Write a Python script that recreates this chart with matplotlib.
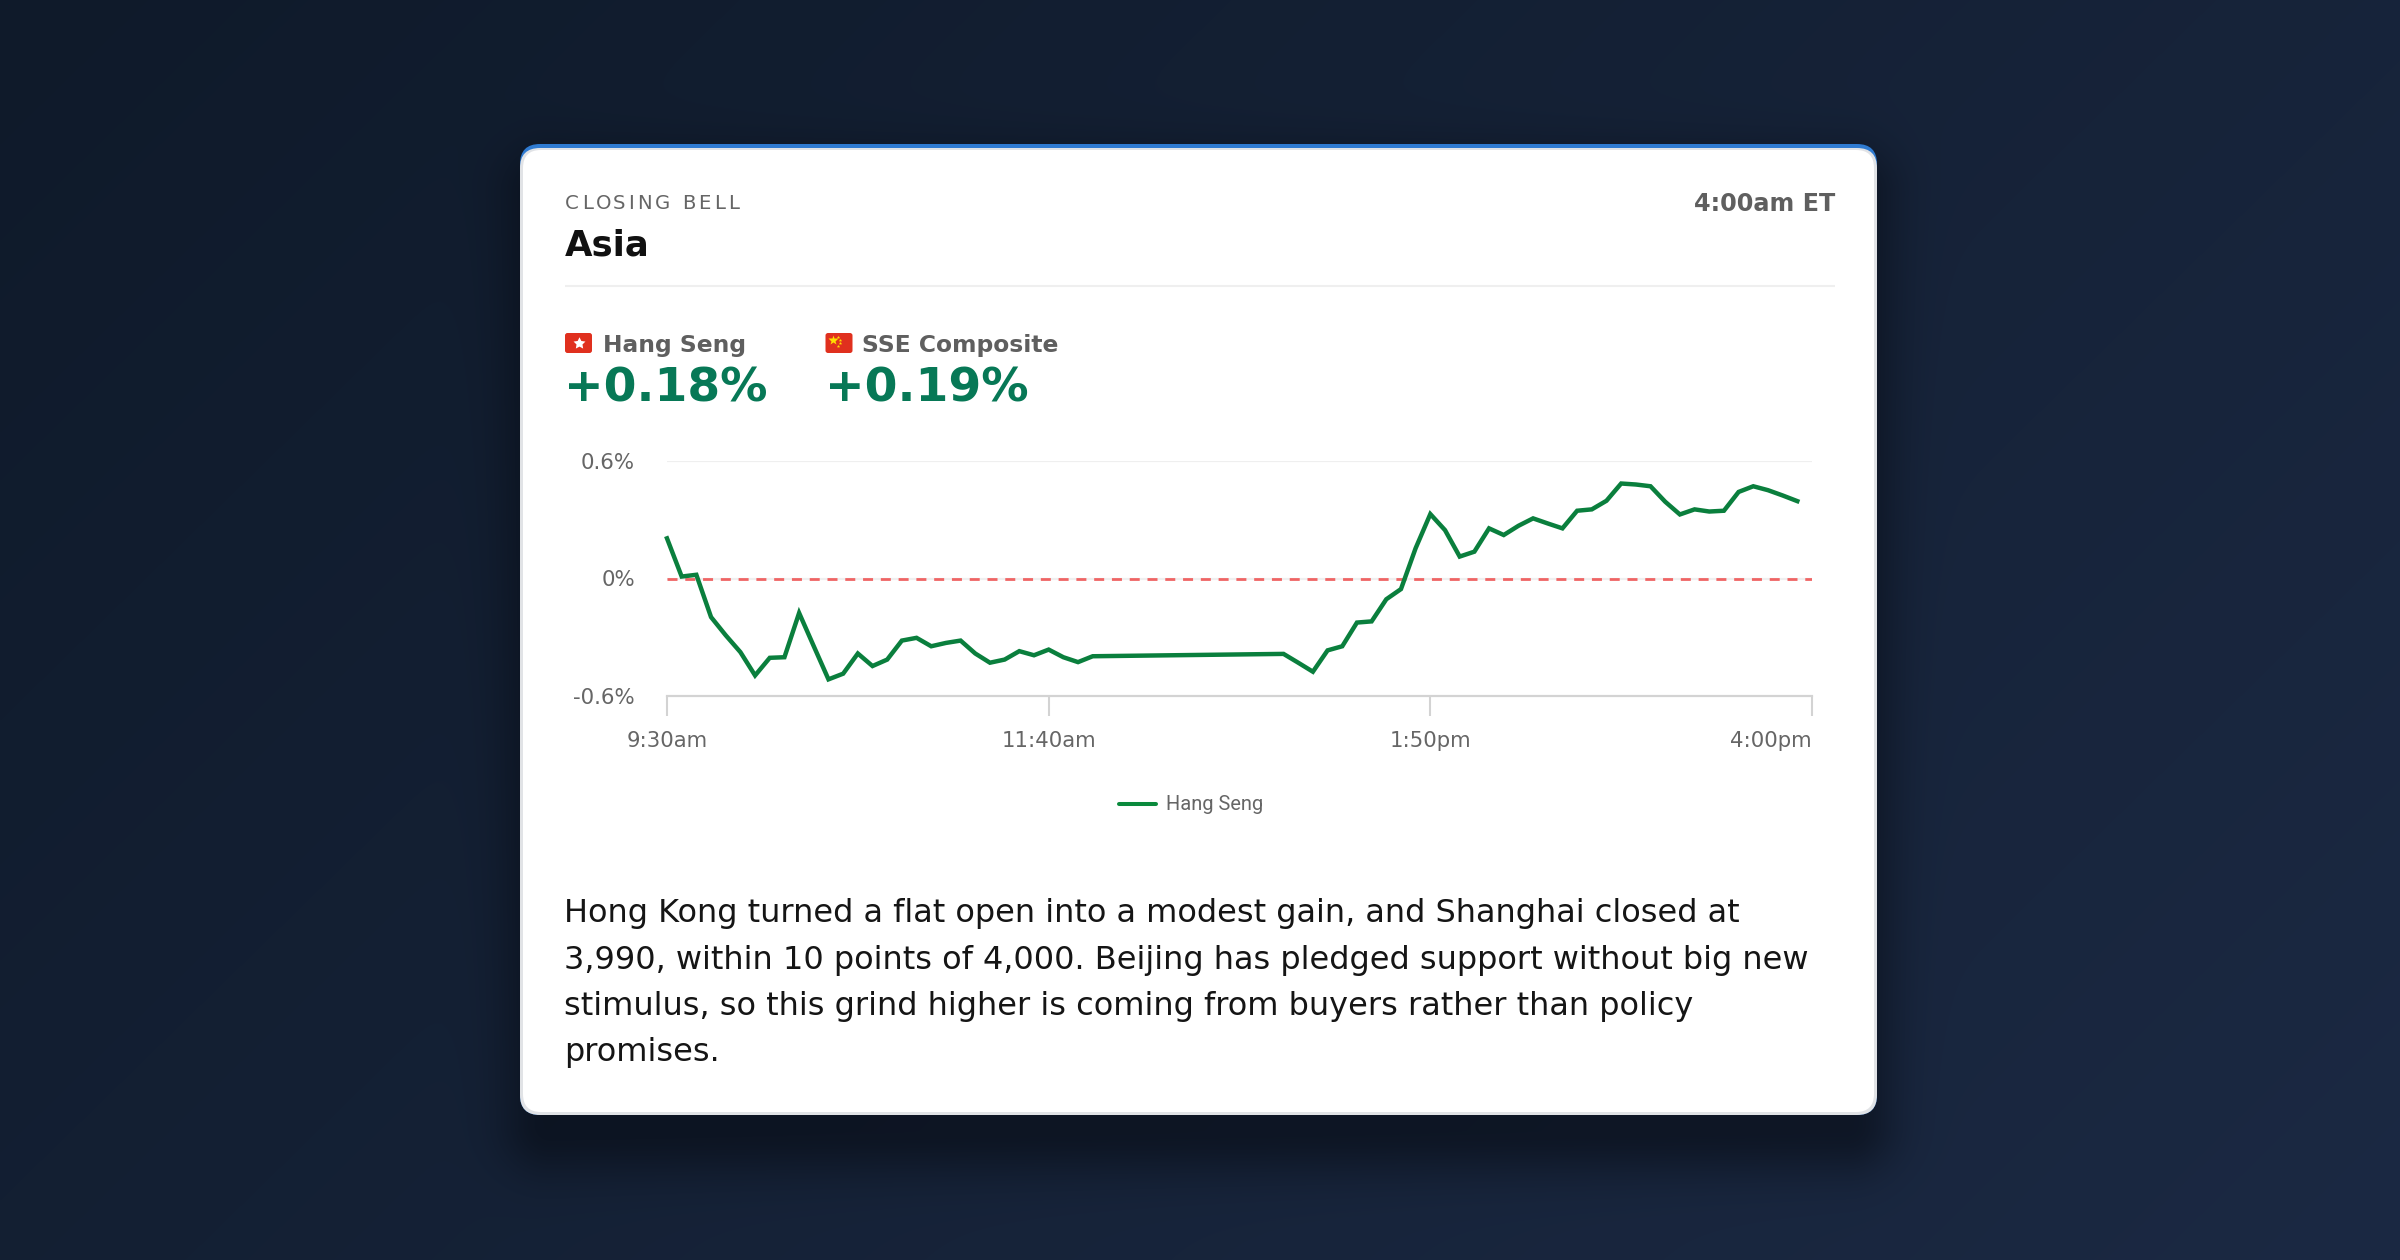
import numpy as np
import matplotlib
matplotlib.use("Agg")
import matplotlib.pyplot as plt
from matplotlib.patches import FancyBboxPatch
from matplotlib.font_manager import FontProperties
from matplotlib.lines import Line2D

# ---------------- data ----------------
morning_times = ["9:30", "9:35", "9:40", "9:45", "9:50", "9:55", "10:00", "10:05", "10:10", "10:15",
                 "10:20", "10:25", "10:30", "10:35", "10:40", "10:45", "10:50", "10:55", "11:00", "11:05",
                 "11:10", "11:15", "11:20", "11:25", "11:30", "11:35", "11:40", "11:45", "11:50", "11:55"]
morning_values = [0.205, 0.010, 0.019, -0.197, -0.290, -0.376, -0.495, -0.405, -0.402, -0.176,
                  -0.346, -0.515, -0.486, -0.383, -0.447, -0.414, -0.317, -0.303, -0.346, -0.329,
                  -0.317, -0.383, -0.430, -0.414, -0.371, -0.392, -0.363, -0.402, -0.427, -0.397]
afternoon_times = ["13:00", "13:05", "13:10", "13:15", "13:20", "13:25", "13:30", "13:35", "13:40", "13:45",
                   "13:50", "13:55", "14:00", "14:05", "14:10", "14:15", "14:20", "14:25", "14:30", "14:35",
                   "14:40", "14:45", "14:50", "14:55", "15:00", "15:05", "15:10", "15:15", "15:20", "15:25",
                   "15:30", "15:35", "15:40", "15:45", "15:50", "15:55"]
afternoon_values = [-0.385, -0.430, -0.476, -0.367, -0.346, -0.225, -0.219, -0.106, -0.054, 0.155,
                    0.329, 0.247, 0.112, 0.137, 0.256, 0.222, 0.269, 0.307, 0.281, 0.256,
                    0.346, 0.353, 0.397, 0.485, 0.480, 0.471, 0.392, 0.327, 0.353, 0.342,
                    0.346, 0.442, 0.471, 0.451, 0.424, 0.395]
tick_times = ["9:30", "11:40", "13:50", "16:00"]
tick_labels = ["9:30am", "11:40am", "1:50pm", "4:00pm"]
y_ticks = [-0.6, 0.0, 0.6]
y_tick_labels = ["-0.6%", "0%", "0.6%"]
series_name = "Hang Seng"
indices = ["Hang Seng", "SSE Composite"]
changes = ["+0.18%", "+0.19%"]
kicker = "CLOSING BELL"
title = "Asia"
stamp = "4:00am ET"
body_lines = [
    "Hong Kong turned a flat open into a modest gain, and Shanghai closed at",
    "3,990, within 10 points of 4,000. Beijing has pledged support without big new",
    "stimulus, so this grind higher is coming from buyers rather than policy",
    "promises.",
]


def minutes(t):
    h, m = t.split(":")
    return (int(h) - 9) * 60 + int(m) - 30


W, H = 2400, 1260
DPI = 100
fig = plt.figure(figsize=(W / DPI, H / DPI), dpi=DPI)

# ---------------- background ----------------
bg = fig.add_axes([0, 0, 1, 1])
bg.set_xlim(0, W)
bg.set_ylim(H, 0)
bg.axis("off")

Y, X = np.mgrid[0:H, 0:W].astype(float)
t = np.clip(X / W * 0.65 + Y / H * 0.35, 0, 1)
c0 = np.array([15, 26, 42]) / 255.0
c1 = np.array([27, 41, 67]) / 255.0
img = c0[None, None, :] * (1 - t[..., None]) + c1[None, None, :] * t[..., None]

cx0, cy0, cx1, cy1, rad = 520, 144, 1877, 1115, 20


def rr_sdf(x0, y0, x1, y1, r):
    cx, cy = (x0 + x1) / 2, (y0 + y1) / 2
    hx, hy = (x1 - x0) / 2 - r, (y1 - y0) / 2 - r
    qx = np.abs(X - cx) - hx
    qy = np.abs(Y - cy) - hy
    outside = np.hypot(np.maximum(qx, 0), np.maximum(qy, 0))
    inside = np.minimum(np.maximum(qx, qy), 0)
    return outside + inside - r


d = rr_sdf(cx0 + 10, cy0 + 30, cx1 - 10, cy1 + 30, rad)
alpha = 0.55 * np.exp(-(np.maximum(d + 15, 0) / 45.0) ** 2)
shadow_col = np.array([6, 10, 18]) / 255.0
img = img * (1 - alpha[..., None]) + shadow_col[None, None, :] * alpha[..., None]
bg.imshow(img, extent=(0, W, H, 0), aspect="auto", interpolation="bilinear", zorder=0)

# card layers: blue top border, grey border, white fill
bg.add_patch(FancyBboxPatch((cx0, cy0), cx1 - cx0, cy1 - cy0,
                            boxstyle=f"round,pad=0,rounding_size={rad}",
                            facecolor="#2f7bd2", edgecolor="none", zorder=1))
bg.add_patch(FancyBboxPatch((cx0, cy0 + 4), cx1 - cx0, cy1 - cy0 - 4,
                            boxstyle=f"round,pad=0,rounding_size={rad}",
                            facecolor="#e1e3e6", edgecolor="none", zorder=2))
bg.add_patch(FancyBboxPatch((cx0 + 3, cy0 + 6), cx1 - cx0 - 6, cy1 - cy0 - 9,
                            boxstyle=f"round,pad=0,rounding_size={rad - 2}",
                            facecolor="#ffffff", edgecolor="none", zorder=3))

# ---------------- header text ----------------
renderer = fig.canvas.get_renderer()
kp = FontProperties(family="DejaVu Sans", size=14.2)
track = 2.9
for i, ch in enumerate(kicker):
    pre = kicker[:i]
    w = renderer.get_text_width_height_descent(pre, kp, ismath=False)[0] if pre else 0
    bg.text(565 + w + i * track, 209, ch, fontproperties=kp, color="#666666",
            va="baseline", ha="left", zorder=5)

bg.text(565, 255, title, fontsize=25.6, fontweight="bold", color="#111111",
        family="DejaVu Sans", va="baseline", ha="left", zorder=5)
bg.text(1835, 211, stamp, fontsize=17.2, fontweight="bold", color="#5f5f5f",
        family="DejaVu Sans", va="baseline", ha="right", zorder=5)
bg.plot([565, 1835], [286, 286], color="#efefef", lw=1.5, zorder=5, solid_capstyle="butt")


# ---------------- flags ----------------
def flag(x0, kind):
    y0, fw, fh = 333, 27, 20
    bg.add_patch(FancyBboxPatch((x0, y0), fw, fh, boxstyle="round,pad=0,rounding_size=2.5",
                                facecolor="#e0301e", edgecolor="none", zorder=5))
    if kind == "hk":
        bg.plot([x0 + fw / 2], [y0 + fh / 2], marker=(5, 1, 0), ms=9, color="white",
                mec="none", zorder=6)
    else:
        bg.plot([x0 + 7], [y0 + 7], marker="*", ms=7, color="#ffde00", mec="none", zorder=6)
        for dx, dy in [(12, 3.5), (14, 6.5), (14, 10), (12, 13)]:
            bg.plot([x0 + dx], [y0 + dy], marker="*", ms=2.6, color="#ffde00", mec="none", zorder=6)


flag(565, "hk")
flag(825.5, "cn")
label_x = [603, 862]
pct_x = [564, 825]
for lx, px, name, ch in zip(label_x, pct_x, indices, changes):
    bg.text(lx, 352, name, fontsize=16.8, fontweight="bold", color="#5f5f5f",
            family="DejaVu Sans", va="baseline", ha="left", zorder=5)
    bg.text(px, 402, ch, fontsize=34, fontweight="bold", color="#077856",
            family="DejaVu Sans", va="baseline", ha="left", zorder=5)

# ---------------- body text ----------------
for i, line in enumerate(body_lines):
    bg.text(564, 922 + 46.5 * i, line, fontsize=23.05, color="#151515",
            family="DejaVu Sans", va="baseline", ha="left", zorder=5)

# ---------------- chart ----------------
ax_l, ax_r, ax_t, ax_b = 667, 1812, 461, 696
ax = fig.add_axes([ax_l / W, 1 - ax_b / H, (ax_r - ax_l) / W, (ax_b - ax_t) / H], zorder=10)
ax.patch.set_alpha(0)

xs = [minutes(tt) for tt in morning_times + afternoon_times]
ys = morning_values + afternoon_values
ax.set_xlim(0, minutes("16:00"))
ax.set_ylim(-0.6, 0.6)

for yv in [0.6, 0.0]:
    ax.axhline(yv, color="#efefef", lw=1.6, zorder=1)
ax.axhline(0.0, color="#ef6464", lw=2.0, zorder=2, linestyle=(0, (3.6, 2.8)))

ax.plot(xs, ys, color="#0a7f3d", lw=3.2, zorder=4, solid_joinstyle="miter",
        clip_on=False, label=series_name)

for s in ["top", "right", "left"]:
    ax.spines[s].set_visible(False)
ax.spines["bottom"].set_color("#d3d3d3")
ax.spines["bottom"].set_linewidth(1.6)

ax.set_xticks([minutes(tt) for tt in tick_times])
ax.set_xticklabels(tick_labels)
ax.set_yticks(y_ticks)
ax.set_yticklabels(y_tick_labels)
ax.tick_params(axis="x", length=14.4, width=1.5, color="#d3d3d3", pad=10.8,
               labelsize=15.3, labelcolor="#666666")
ax.tick_params(axis="y", length=0, pad=23, labelsize=15.3, labelcolor="#666666")
for lab in ax.get_xticklabels() + ax.get_yticklabels():
    lab.set_family("DejaVu Sans")
ax.get_xticklabels()[-1].set_horizontalalignment("right")

leg = ax.legend(handles=[Line2D([], [], color="#0a8a3c", lw=2.9, solid_capstyle="round")],
                labels=[series_name], loc="center",
                bbox_to_anchor=(1191 / W, 1 - 805 / H), bbox_transform=fig.transFigure,
                frameon=False, handlelength=1.85, handletextpad=0.46,
                prop=FontProperties(family="Roboto", size=14.4))
for txt in leg.get_texts():
    txt.set_color("#666666")

fig.savefig("out.png", dpi=DPI)
